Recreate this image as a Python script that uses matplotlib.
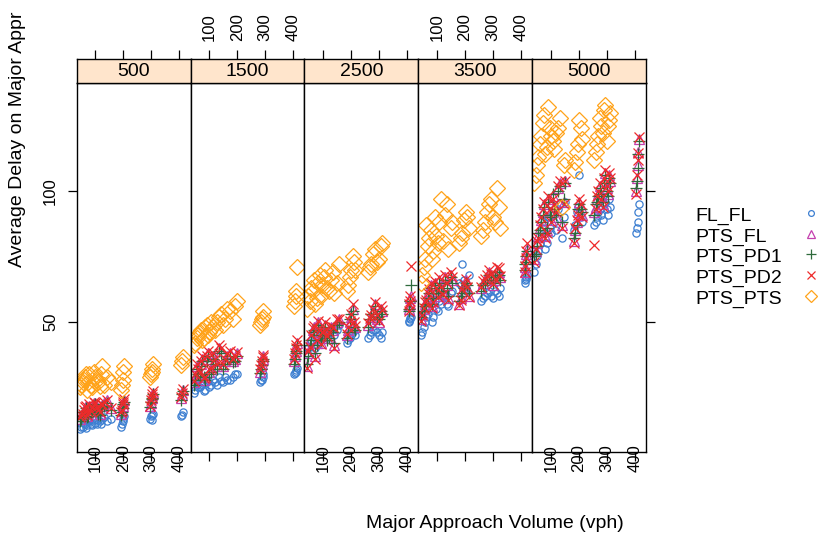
import numpy as np
import matplotlib
matplotlib.use("Agg")
import matplotlib.pyplot as plt
from matplotlib.lines import Line2D

plt.rcParams['font.family'] = ['Liberation Sans', 'DejaVu Sans']

nan = np.nan

# panel levels (strip labels)
levels = ["500", "1500", "2500", "3500", "5000"]
series = ["FL_FL", "PTS_FL", "PTS_PD1", "PTS_PD2", "PTS_PTS"]

# --- panel 500
x_500 = [45, 55, 62, 70, 78, 85, 95, 105, 115, 125, 140, 155, 192, 198, 202, 296, 302, 306, 408, 412,
         48, 58, 66, 74, 88, 100, 110, 120, 132, 195, 200, 299, 304, 410]
fl_fl_500 = [9, 10, 11, 10.5, 12, 11, 12.5, 11, 12, 13, 12, 13, 10, 12, 14, 13, 14.5, 15, 14, 15.5,
             10, 11.5, 9.5, 12, 10.5, 11.5, 12.5, 11, 13.5, 11, 13, 14, 12.5, 14.5]
pts_fl_500 = [13, 15, 17, 14, 18, 16, 19, 17, 15, 18, 20, 17, 15, 18, 20, 18, 21, 23, 21, 24,
              14, 16, 18, 15, 17, 19, 16, 18, 19, 16, 19, 19, 22, 22]
pts_pd1_500 = [12, 14, 16, 13.5, 17, 15.5, 18, 16, 14.5, 17.5, 19, 16.5, 14.5, 17, 19.5, 17.5, 20.5, 22.5, 20, 23.5,
               13, 15.5, 17, 14, 16.5, 18.5, 15, 17, 18, 15.5, 18.5, 19.5, 21, 22.5]
pts_pd2_500 = [13.5, 15, 17.5, 14.5, 18.5, 16, 19.5, 17.5, 15.5, 18.5, 20, 17, 15.5, 18.5, 20.5, 18, 21.5, 23.5, 21.5, 24.5,
               14.5, 16.5, 18, 15.5, 17.5, 19, 16.5, 18.5, 19.5, 16.5, 19.5, 20, 22.5, 23]
pts_pts_500 = [25, 27, 29, 24, 30, 26, 31, 28, 25.5, 33, 29, 27, 24, 28, 33, 29, 32, 34, 33.5, 36.5,
               26, 28, 30, 27, 25, 29, 27, 30, 26, 26, 31, 30, 31, 35]

# --- panel 1500
x_1500 = [45, 55, 65, 75, 85, 95, 105, 120, 135, 150, 165, 185, 200, 282, 288, 294, 405, 410, 415,
          50, 60, 70, 80, 90, 100, 112, 128, 142, 158, 175, 192, 285, 291, 408, 412]
fl_fl_1500 = [23, 26, 25, 27, 24, 28, 26, 27, 29, 27, 28, 29, 30, 27, 28, 30, 30, 31, 32.5,
              24, 25, 26, 23.5, 27, 25, 28, 26, 27.5, 29, 28, 30, 28, 29, 30.5, 31.5]
pts_fl_1500 = [27, 33, 30, 36, 29, 38, 32, 35, 40, 33, 37, 35, 38, 31, 34, 37, 35, 39, 42,
               29, 31, 34, 28, 36, 31, 37, 33, 39, 35, 38, 36, 33, 36, 37, 40]
pts_pd1_1500 = [26, 32, 29.5, 35, 28, 37, 31, 34, 39, 32, 36, 34.5, 37, 30.5, 33.5, 36, 34, 38, 41,
                28, 30, 33, 29, 35, 30, 36, 32, 38, 34, 37, 35, 32, 35, 36, 39]
pts_pd2_1500 = [27.5, 34, 31, 37, 29, 39, 32.5, 36, 41, 34, 38, 36, 38.5, 32, 35, 37.5, 36, 40, 43,
                30, 32, 35, 28.5, 37, 32, 38, 34, 40, 36, 39, 37, 33.5, 36.5, 38, 41]
pts_pts_1500 = [41, 44, 46, 43, 48, 45, 50, 47, 52, 49, 55, 51, 58, 49, 51, 54, 56, 62, 71,
                42, 45, 47, 44, 49, 46, 48, 50, 53, 51, 54, 56, 50, 52, 58, 60]

# --- panel 2500
x_2500 = [42, 52, 62, 72, 82, 92, 102, 115, 128, 140, 155, 185, 195, 205, 215, 260, 272, 285, 300, 312, 406, 410, 414,
          47, 57, 67, 77, 87, 97, 108, 122, 135, 148, 190, 200, 210, 266, 278, 292, 306, 408, 412]
fl_fl_2500 = [38, 42, 45, 40, 48, 43, 46, 44, 47, 45, 49, 42, 44, 46, 45, 44, 46, 47, 45, 46, 50, 51, 52,
              40, 43, 46, 41, 47, 44, 45, 46, 48, 47, 43, 45, 47, 45, 47, 46, 44, 50.5, 51.5]
pts_fl_2500 = [33, 40, 47, 37, 50, 42, 46, 44, 48, 41, 51, 45, 50, 55, 48, 49, 52, 57, 50, 54, 55, 57, 60,
               38, 44, 48, 42, 46, 44, 49, 45, 47, 50, 47, 52, 49, 50, 54, 51, 55, 56, 59]
pts_pd1_2500 = [34, 41, 46, 38, 49, 43, 45, 43, 47, 42, 50, 44, 51, 54, 47, 48, 53, 56, 51, 53, 54, 58, 64,
                37, 43, 47, 41, 45, 45, 48, 44, 46, 49, 46, 53, 48, 51, 53, 52, 54, 55, 58]
pts_pd2_2500 = [32.5, 40.5, 47.5, 36, 50.5, 41.5, 46.5, 44.5, 48.5, 40, 51, 45.5, 50.5, 57, 48.5, 49.5, 52.5, 57.5, 50.5, 54.5, 54, 58, 71.5,
                39, 45, 48.5, 43, 47, 46, 50, 46, 48, 51, 48, 53, 50, 51.5, 55, 52.5, 56, 57, 60]
pts_pts_2500 = [55, 58, 62, 57, 65, 60, 67, 63, 66, 61, 72, 62, 67, 75, 70, 69, 72, 78, 74, 80, nan, nan, nan,
                60, 63, 66, 59, 68, 64, 70, 62, 69, 65, 64, 70, 73, 71, 76, 73, 79, nan, nan]

# --- panel 3500
x_3500 = [42, 52, 62, 72, 82, 92, 102, 115, 128, 140, 155, 178, 190, 202, 215, 258, 270, 285, 300, 315, 326, 414, 418, 422,
          47, 57, 67, 77, 87, 97, 108, 122, 135, 148, 184, 196, 208, 264, 278, 292, 308, 320, 416, 420]
fl_fl_3500 = [45, 48, 52, 55, 50, 58, 54, 57, 60, 56, 62, 65, 72, 63, 68, 58, 60, 62, 59, 61, 63, 65, 66.5, 68,
              46, 50, 53, 57, 52, 55, 58, 60, 57, 61, 64, 66, 62, 59, 61, 60, 62, 60, 66, 67]
pts_fl_3500 = [51, 55, 58, 62, 56, 65, 60, 63, 67, 59, 66, 57, 62, 66, 60, 63, 66, 69, 64, 70, 67, 69, 74, 78,
               53, 57, 60, 64, 58, 62, 66, 61, 64, 68, 59, 64, 63, 65, 67, 68, 66, 69, 71, 76]
pts_pd1_3500 = [52, 54, 57, 61, 57, 64, 61, 62, 66, 60, 65, 58, 61, 65, 61, 62, 65, 68, 65, 69, 66, 70, 73, 77,
                54, 56, 59, 63, 59, 61, 65, 62, 63, 67, 60, 63, 64, 64, 66, 67, 67, 68, 72, 75]
pts_pd2_3500 = [50.5, 55.5, 58.5, 62.5, 55.5, 65.5, 59.5, 63.5, 68, 58.5, 67, 56.5, 62.5, 66.5, 59.5, 63.5, 66.5, 70, 64.5, 71, 67.5, 69, 74.5, 80,
                52.5, 57.5, 61, 65, 57.5, 63, 67, 60.5, 65, 69, 58.5, 64.5, 63.5, 65.5, 68, 68.5, 66.5, 70.5, 71.5, 77]
pts_pts_3500 = [65, 71, 87, 82, 74, 90, 80, 97, 91, 78, 88, 80, 84, 92, 86, 83, 88, 95, 90, 101, 86, nan, nan, nan,
                68, 74, 79, 85, 77, 83, 88, 81, 95, 86, 82, 89, 90, 85, 92, 97, 88, 94, nan, nan]

# --- panel 5000
x_5000 = [40, 50, 60, 70, 80, 90, 100, 112, 125, 138, 150, 182, 192, 202, 212, 255, 265, 275, 285, 295, 305, 312, 406, 410, 414,
          45, 55, 65, 75, 85, 95, 106, 118, 132, 145, 187, 197, 207, 260, 270, 280, 290, 300, 308, 408, 412]
fl_fl_5000 = [69, 75, 80, 86, 78, 90, 84, 88, 93, 82, 96, 85, 92, 106, 88, 87, 90, 93, 89, 96, 91, 94, 84, 88, 95,
              72, 77, 82, 88, 80, 86, 91, 85, 95, 90, 87, 94, 90, 88, 92, 91, 95, 93, 97, 86, 92]
pts_fl_5000 = [74, 80, 86, 92, 83, 97, 89, 94, 101, 87, 104, 81, 88, 96, 91, 92, 97, 102, 95, 107, 99, 104, 100, 110, 120,
               77, 83, 89, 95, 85, 92, 98, 90, 103, 96, 85, 92, 94, 94, 99, 98, 104, 101, 106, 105, 115]
pts_pd1_5000 = [75, 79, 85, 91, 84, 96, 90, 93, 100, 88, 103, 82, 87, 95, 92, 91, 96, 101, 96, 106, 98, 103, 101, 109, 119,
                76, 84, 88, 94, 86, 91, 99, 91, 102, 97, 84, 93, 93, 95, 98, 99, 103, 100, 105, 104, 114]
pts_pd2_5000 = [73, 81, 87, 93, 82, 98, 88, 95, 102, 86, 104, 80, 89, 97, 90, 79.5, 98, 103, 94, 108, 100, 105, 99, 112, 120.5,
                78, 82, 90, 96, 84, 93, 97, 92, 104, 95, 86, 91, 95, 93, 100, 97, 105, 102, 107, 106, 114.5]
pts_pts_5000 = [103, 110, 118, 126, 114, 132, 121, 116, 124, 94, 112, 108, 115, 127, 120, 112, 118, 128, 122, 133, 125, 130, nan, nan, nan,
                106, 113, 121, 129, 117, 124, 119, 122, 128, 110, 111, 118, 124, 115, 121, 125, 131, 119, 127, nan, nan]

panels = [
    (x_500, [fl_fl_500, pts_fl_500, pts_pd1_500, pts_pd2_500, pts_pts_500]),
    (x_1500, [fl_fl_1500, pts_fl_1500, pts_pd1_1500, pts_pd2_1500, pts_pts_1500]),
    (x_2500, [fl_fl_2500, pts_fl_2500, pts_pd1_2500, pts_pd2_2500, pts_pts_2500]),
    (x_3500, [fl_fl_3500, pts_fl_3500, pts_pd1_3500, pts_pd2_3500, pts_pts_3500]),
    (x_5000, [fl_fl_5000, pts_fl_5000, pts_pd1_5000, pts_pd2_5000, pts_pts_5000]),
]

colors = ["#3d7fd1", "#c43fae", "#2f6a3c", "#ee2a2a", "#ffa31a"]
markers = ["o", "^", "+", "x", "D"]
msizes = [5.2, 6.8, 9.0, 6.8, 8.2]

fig = plt.figure(figsize=(8.2, 5.4), dpi=100)

left = 76.7 / 820
pw = 113.9 / 820
bottom = 1 - 452 / 540
ph = (452 - 82.7) / 540
sh = 23.4 / 540

for i, (xs, ys) in enumerate(panels):
    ax = fig.add_axes([left + i * pw, bottom, pw, ph])
    for yv, c, m, s in zip(ys, colors, markers, msizes):
        ax.plot(xs, yv, linestyle="none", marker=m, ms=s, mfc="none",
                mec=c, mew=0.9)
    ax.set_xlim(33, 441)
    ax.set_ylim(0.3, 141.4)
    ax.set_xticks([100, 200, 300, 400])
    ax.set_yticks([50, 100])
    ax.tick_params(axis="x", direction="out", length=6.5, width=0.9,
                   labelsize=12, labelrotation=90, pad=-12,
                   labelbottom=(i % 2 == 0))
    ax.tick_params(axis="y", direction="out", length=6.5, width=0.9,
                   labelsize=12, labelrotation=90, pad=7,
                   left=(i == 0), labelleft=(i == 0), right=(i == 4))
    for t in ax.get_yticklabels():
        t.set_va("center")
    for sp in ax.spines.values():
        sp.set_linewidth(1.0)

    # strip with top ticks
    st = fig.add_axes([left + i * pw, bottom + ph, pw, sh])
    st.set_facecolor("#ffe5cc")
    st.set_xlim(33, 441)
    st.set_ylim(0, 1)
    st.set_xticks([100, 200, 300, 400])
    st.set_yticks([])
    st.tick_params(axis="x", direction="out", length=6.5, width=0.9,
                   labelsize=12, labelrotation=90, pad=7,
                   bottom=False, labelbottom=False, top=True,
                   labeltop=(i % 2 == 1))
    st.text(0.5, 0.5, levels[i], transform=st.transAxes, ha="center",
            va="center", fontsize=14)
    for sp in st.spines.values():
        sp.set_linewidth(1.0)

fig.text(495 / 820, 1 - 523 / 540, "Major Approach Volume (vph)",
         ha="center", va="center", fontsize=14)
fig.text(18 / 820, 1 - 267 / 540, "Average Delay on Major Appr",
         rotation=90, ha="center", va="bottom", fontsize=14)

# key on the right
key_y = [216, 237, 257, 278, 299]
for name, c, m, s, yy in zip(series, colors, markers, msizes, key_y):
    fig.text(695 / 820, 1 - yy / 540, name, ha="left", va="center",
             fontsize=14)
    fig.add_artist(Line2D([811 / 820], [1 - (yy - 3) / 540],
                          transform=fig.transFigure, linestyle="none",
                          marker=m, ms=s * 0.8, mfc="none", mec=c, mew=0.9))

fig.savefig("out.png", dpi=100)
